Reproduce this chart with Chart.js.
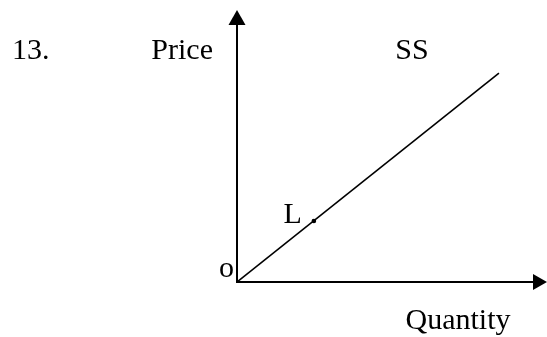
<!DOCTYPE html>
<html>
<head>
<meta charset="utf-8">
<script src="https://cdn.jsdelivr.net/npm/chart.js@4/dist/chart.umd.min.js"></script>
<style>
  html, body { margin: 0; padding: 0; background: #fff; }
  canvas { display: block; }
</style>
</head>
<body>
<canvas id="chart" width="547" height="337"></canvas>
<script>
// supply curve SS, straight from the origin
const supplyQty = [0, 84.5];
const supplyPrice = [0, 76.8];
// point L on the curve
const pointQty = [24.8];
const pointPrice = [22.4];
const pointLabels = ["L"];

const questionNo = "13.";
const yTitle = "Price";
const xTitle = "Quantity";
const curveLabel = "SS";
const originLabel = "o";

const FONT = "30px 'Liberation Serif', 'Times New Roman', serif";

function arrowAxes(ctx, area) {
  ctx.save();
  ctx.strokeStyle = "#000";
  ctx.fillStyle = "#000";
  ctx.lineWidth = 2;
  ctx.beginPath();
  ctx.moveTo(area.left, area.bottom);
  ctx.lineTo(area.left, area.top + 14);
  ctx.moveTo(area.left - 1, area.bottom);
  ctx.lineTo(area.right - 13, area.bottom);
  ctx.stroke();
  // up arrow
  ctx.beginPath();
  ctx.moveTo(area.left, area.top);
  ctx.lineTo(area.left - 8.5, area.top + 15);
  ctx.lineTo(area.left + 8.5, area.top + 15);
  ctx.closePath();
  ctx.fill();
  // right arrow
  ctx.beginPath();
  ctx.moveTo(area.right, area.bottom);
  ctx.lineTo(area.right - 14, area.bottom - 8);
  ctx.lineTo(area.right - 14, area.bottom + 8);
  ctx.closePath();
  ctx.fill();
  ctx.restore();
}

const diagram = {
  id: "diagram",
  beforeDatasetsDraw(chart) {
    arrowAxes(chart.ctx, chart.chartArea);
  },
  afterDatasetsDraw(chart) {
    const ctx = chart.ctx;
    const area = chart.chartArea;
    const xs = chart.scales.x;
    const ys = chart.scales.y;
    ctx.save();
    ctx.fillStyle = "#000";
    ctx.font = FONT;
    ctx.textBaseline = "alphabetic";

    ctx.textAlign = "left";
    ctx.fillText(questionNo, 12, 59);

    ctx.textAlign = "right";
    ctx.fillText(yTitle, area.left - 24, 59);

    ctx.textAlign = "center";
    const endX = xs.getPixelForValue(supplyQty[supplyQty.length - 1]);
    ctx.fillText(curveLabel, endX - 87, 59);

    ctx.fillText(xTitle, area.left + 221, area.bottom + 47);

    ctx.textAlign = "right";
    ctx.fillText(originLabel, area.left - 3, area.bottom - 5);

    pointQty.forEach((q, i) => {
      const px = xs.getPixelForValue(q);
      const py = ys.getPixelForValue(pointPrice[i]);
      ctx.textAlign = "right";
      ctx.fillText(pointLabels[i], px - 12, py + 2);
    });
    ctx.restore();
  }
};

new Chart(document.getElementById("chart"), {
  type: "scatter",
  data: {
    datasets: [
      {
        label: curveLabel,
        data: supplyQty.map((q, i) => ({ x: q, y: supplyPrice[i] })),
        showLine: true,
        borderColor: "#000",
        borderWidth: 1.6,
        pointRadius: 0,
        pointHoverRadius: 0,
        fill: false
      },
      {
        label: pointLabels[0],
        data: pointQty.map((q, i) => ({ x: q, y: pointPrice[i] })),
        showLine: false,
        pointRadius: 2.3,
        pointHoverRadius: 0,
        pointBackgroundColor: "#000",
        pointBorderColor: "#000",
        pointBorderWidth: 0
      }
    ]
  },
  options: {
    responsive: false,
    animation: false,
    layout: { autoPadding: false, padding: { left: 237, top: 10, right: 0, bottom: 55 } },
    plugins: {
      legend: { display: false },
      tooltip: { enabled: false }
    },
    scales: {
      x: { type: "linear", min: 0, max: 100, display: false },
      y: { type: "linear", min: 0, max: 100, display: false }
    }
  },
  plugins: [diagram]
});
</script>
</body>
</html>
